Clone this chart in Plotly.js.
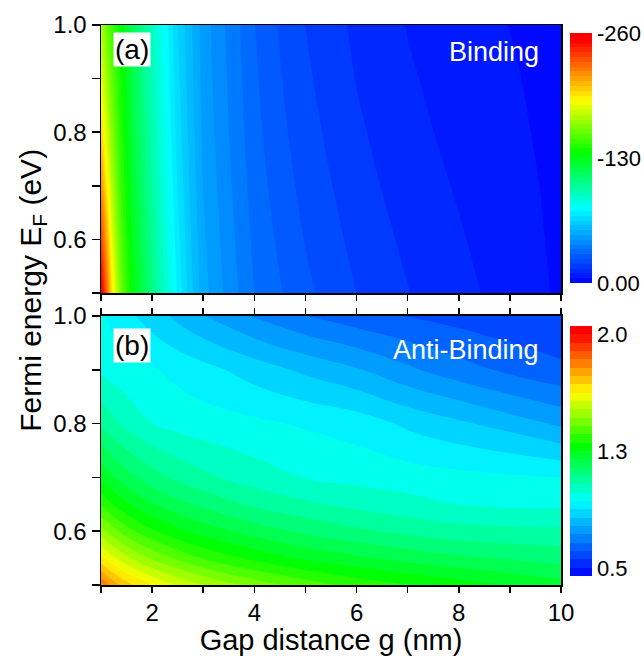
<!DOCTYPE html>
<html>
<head>
<meta charset="utf-8">
<script src="https://cdn.plot.ly/plotly-3.0.1.min.js"></script>
<style>html,body{margin:0;padding:0;background:#fff;}#chart{width:644px;height:656px;}</style>
</head>
<body>
<div id="chart"></div>
<script>
// ---- Data ----
// (a) Binding: gap distance g (nm) and Fermi energy E_F (eV) sample positions
const gapBinding = [1, 1.1, 1.2, 1.3, 1.4, 1.6, 1.8, 2, 2.25, 2.5, 2.75, 3, 3.5, 4, 4.5, 5, 6, 7, 8, 9, 10];
const fermiBinding = [0.5, 0.6, 0.7, 0.8, 0.9, 1.0];
// magnitude of the (negative) binding values; colour bar runs 0.00 .. -260
const bindingEF050 = [260, 232, 200, 177, 158, 135, 120, 106, 90, 74, 62, 52, 43, 35, 30.5, 26.3, 20, 15.2, 11.5, 8, 4.2];
const bindingEF060 = [238, 214, 188, 168, 152, 131, 116, 102.5, 87, 71.8, 60.5, 50.9, 42, 33.8, 29, 24.7, 18.5, 13.9, 10.5, 7.2, 4.0];
const bindingEF070 = [218, 197, 176, 160, 146, 127, 112, 99.3, 84.2, 69.7, 59.1, 49.8, 41, 32.7, 27.6, 23.3, 17.1, 12.6, 9.5, 6.5, 3.9];
const bindingEF080 = [200, 183, 166, 153, 142, 123, 109, 96.5, 81.8, 67.9, 57.9, 48.9, 40.1, 31.7, 26.4, 22.0, 15.9, 11.5, 8.6, 5.9, 3.7];
const bindingEF090 = [185, 171, 158, 147, 138, 121, 106, 94.1, 79.8, 66.4, 56.9, 48.2, 39.4, 30.9, 25.4, 20.9, 14.8, 10.6, 7.9, 5.4, 3.6];
const bindingEF100 = [172, 160, 150, 142, 134, 118, 104, 92, 78, 65, 56, 47.5, 38.8, 30.2, 24.5, 20, 13.9, 9.8, 7.3, 4.9, 3.5];

// (b) Anti-Binding
const gapAnti = [1, 1.25, 1.5, 2, 2.5, 3, 4, 5, 6, 7, 8, 10];
const fermiAnti = [0.5, 0.55, 0.6, 0.65, 0.7, 0.8, 0.9, 1.0];
const antiEF050 = [1.80, 1.725, 1.67, 1.60, 1.545, 1.50, 1.43, 1.376, 1.332, 1.302, 1.274, 1.22];
const antiEF055 = [1.61, 1.557, 1.512, 1.441, 1.389, 1.345, 1.286, 1.24, 1.21, 1.182, 1.16, 1.13];
const antiEF060 = [1.47, 1.418, 1.371, 1.308, 1.264, 1.229, 1.178, 1.14, 1.111, 1.087, 1.07, 1.06];
const antiEF065 = [1.34, 1.296, 1.258, 1.205, 1.166, 1.138, 1.09, 1.06, 1.035, 1.017, 1.0, 0.99];
const antiEF070 = [1.24, 1.202, 1.17, 1.122, 1.087, 1.062, 1.024, 0.998, 0.984, 0.975, 0.965, 0.95];
const antiEF080 = [1.09, 1.06, 1.035, 1.0, 0.983, 0.973, 0.96, 0.944, 0.927, 0.89, 0.86, 0.79];
const antiEF090 = [0.99, 0.978, 0.968, 0.955, 0.935, 0.917, 0.877, 0.839, 0.805, 0.76, 0.72, 0.66];
const antiEF100 = [0.955, 0.935, 0.915, 0.875, 0.838, 0.803, 0.746, 0.702, 0.67, 0.648, 0.63, 0.61];

// Tick labels
const xTickVals = [2, 4, 6, 8, 10];
const xTickText = ['2', '4', '6', '8', '10'];
const yTickVals = [0.6, 0.8, 1.0];
const yTickText = ['0.6', '0.8', '1.0'];
const cbBindingVals = [0, 130, 260];
const cbBindingText = ['0.00', '-130', '-260'];
const cbAntiVals = [0.55, 1.25, 1.95];
const cbAntiText = ['0.5', '1.3', '2.0'];

// ---- Chart ----
const FONT = 'Liberation Sans, Arial, Helvetica, sans-serif';
const rainbow = [
  [0, 'rgb(0,0,255)'],
  [0.30, 'rgb(0,255,255)'],
  [0.52, 'rgb(0,255,0)'],
  [0.73, 'rgb(255,255,0)'],
  [0.97, 'rgb(255,0,0)'],
  [1, 'rgb(255,0,0)']
];

const bindingZ = [bindingEF050, bindingEF060, bindingEF070, bindingEF080, bindingEF090, bindingEF100];
const antiZ = [antiEF050, antiEF055, antiEF060, antiEF065, antiEF070, antiEF080, antiEF090, antiEF100];

const cbCommon = {
  x: 1.0196, xanchor: 'left', xpad: 0, ypad: 0, thickness: 22, thicknessmode: 'pixels',
  len: 250, lenmode: 'pixels', yanchor: 'middle', outlinewidth: 0,
  ticks: '', tickfont: {family: FONT, size: 22, color: '#000'}, ticklabelpad: 3
};

const traces = [
  {
    type: 'contour', x: gapBinding, y: fermiBinding, z: bindingZ,
    xaxis: 'x2', yaxis: 'y2',
    colorscale: rainbow, zmin: 0, zmax: 260, autocontour: false,
    contours: {start: 0, end: 260, size: 5, coloring: 'fill', showlines: false},
    line: {width: 0, smoothing: 1.3},
    colorbar: Object.assign({}, cbCommon, {y: 0.7625, tickvals: cbBindingVals, ticktext: cbBindingText}),
    hoverinfo: 'skip'
  },
  {
    type: 'contour', x: gapAnti, y: fermiAnti, z: antiZ,
    xaxis: 'x', yaxis: 'y',
    colorscale: rainbow, zmin: 0.5, zmax: 2.0, autocontour: false,
    contours: {start: 0.5, end: 2.0, size: 0.05, coloring: 'fill', showlines: false},
    line: {width: 0, smoothing: 1.3},
    colorbar: Object.assign({}, cbCommon, {y: 0.239, tickvals: cbAntiVals, ticktext: cbAntiText}),
    hoverinfo: 'skip'
  }
];

const axisCommon = {
  showgrid: false, zeroline: false, showline: true, linecolor: '#000', linewidth: 1.5,
  ticks: 'outside', tickcolor: '#000', tickwidth: 1.5,
  tickfont: {family: FONT, size: 24, color: '#000'}
};
const xMinor = {ticks: 'outside', dtick: 1, tick0: 0, ticklen: 6, tickwidth: 1.5, tickcolor: '#000', showgrid: false};
const yMinor = {ticks: 'outside', dtick: 0.1, tick0: 0.5, ticklen: 8, tickwidth: 1.5, tickcolor: '#000', showgrid: false};

const layout = {
  width: 644, height: 656,
  margin: {l: 101, r: 83, t: 25, b: 71, pad: 0, autoexpand: false},
  paper_bgcolor: '#fff', plot_bgcolor: '#fff',
  font: {family: FONT, color: '#000'},
  showlegend: false,
  xaxis: Object.assign({}, axisCommon, {
    domain: [0, 1], anchor: 'y', range: [1, 10], tickmode: 'array',
    tickvals: xTickVals, ticktext: xTickText, ticklen: 6, mirror: 'ticks', minor: xMinor,
    title: {text: 'Gap distance g (nm)', font: {family: FONT, size: 29, color: '#000'}, standoff: 1}
  }),
  xaxis2: Object.assign({}, axisCommon, {
    domain: [0, 1], anchor: 'y2', range: [1, 10], matches: 'x', tickmode: 'array',
    tickvals: xTickVals, ticktext: xTickText, ticklen: 6, showticklabels: false, mirror: true, minor: xMinor
  }),
  yaxis: Object.assign({}, axisCommon, {
    domain: [0, 0.4804], anchor: 'x', range: [0.5, 1.0], tickmode: 'array',
    tickvals: yTickVals, ticktext: yTickText, ticklen: 8, mirror: true, minor: yMinor
  }),
  yaxis2: Object.assign({}, axisCommon, {
    domain: [0.5214, 1], anchor: 'x2', range: [0.5, 1.0], tickmode: 'array',
    tickvals: yTickVals, ticktext: yTickText, ticklen: 8, mirror: true, minor: yMinor
  }),
  annotations: [
    {text: 'Fermi energy E<sub>F</sub> (eV)', xref: 'paper', yref: 'paper',
     x: -0.148, y: 0.527, xanchor: 'center', yanchor: 'middle', textangle: -90,
     showarrow: false, font: {family: FONT, size: 30, color: '#000'}},
    {text: '(a)', xref: 'x2 domain', yref: 'y2 domain', x: 0.0667, y: 0.907,
     xanchor: 'center', yanchor: 'middle', showarrow: false, bgcolor: '#fff', borderpad: 1,
     font: {family: FONT, size: 28, color: '#000'}},
    {text: '(b)', xref: 'x domain', yref: 'y domain', x: 0.0667, y: 0.892,
     xanchor: 'center', yanchor: 'middle', showarrow: false, bgcolor: '#fff', borderpad: 1,
     font: {family: FONT, size: 28, color: '#000'}},
    {text: 'Binding', xref: 'x2 domain', yref: 'y2 domain', x: 0.9565, y: 0.899,
     xanchor: 'right', yanchor: 'middle', showarrow: false,
     font: {family: FONT, size: 27, color: '#fff'}},
    {text: 'Anti-Binding', xref: 'x domain', yref: 'y domain', x: 0.9565, y: 0.874,
     xanchor: 'right', yanchor: 'middle', showarrow: false,
     font: {family: FONT, size: 27, color: '#fff'}}
  ]
};

Plotly.newPlot('chart', traces, layout, {staticPlot: true, displayModeBar: false});
</script>
</body>
</html>
